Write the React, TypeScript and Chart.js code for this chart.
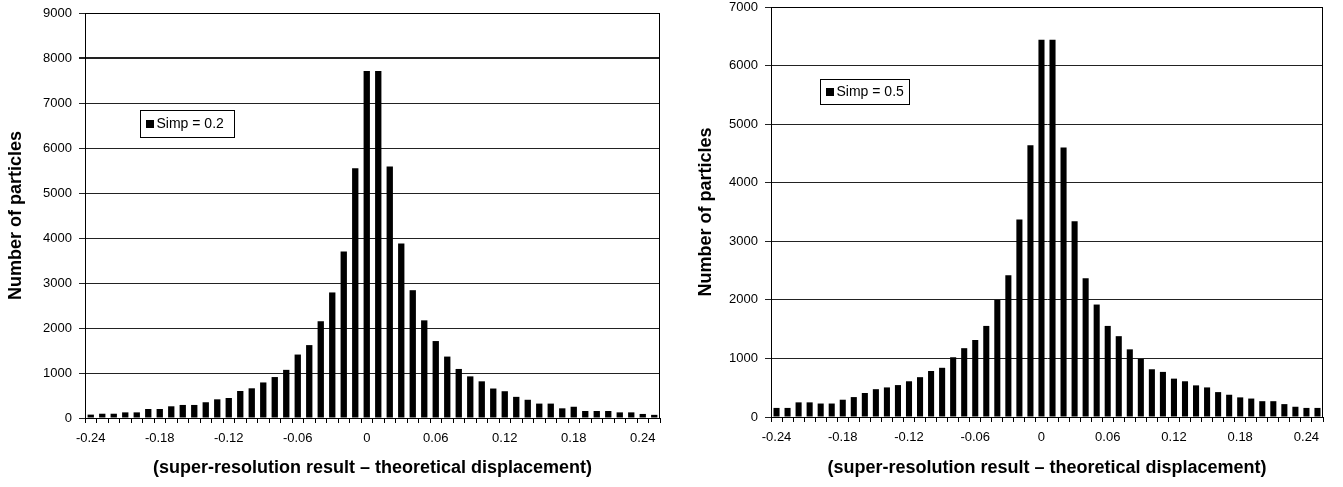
import React, { useEffect, useRef } from 'react';
import { Chart, registerables } from 'chart.js';

Chart.register(...registerables);

const categories = [
  '-0.24', '-0.23', '-0.22', '-0.21', '-0.2', '-0.19', '-0.18', '-0.17', '-0.16', '-0.15',
  '-0.14', '-0.13', '-0.12', '-0.11', '-0.1', '-0.09', '-0.08', '-0.07', '-0.06', '-0.05',
  '-0.04', '-0.03', '-0.02', '-0.01', '0', '0.01', '0.02', '0.03', '0.04', '0.05',
  '0.06', '0.07', '0.08', '0.09', '0.1', '0.11', '0.12', '0.13', '0.14', '0.15',
  '0.16', '0.17', '0.18', '0.19', '0.2', '0.21', '0.22', '0.23', '0.24', '0.25',
];

const shownTickLabels = ['-0.24', '-0.18', '-0.12', '-0.06', '0', '0.06', '0.12', '0.18', '0.24'];

const simp02Counts = [
  75, 95, 95, 125, 125, 200, 200, 260, 290, 290,
  350, 415, 445, 600, 660, 790, 910, 1070, 1410, 1620,
  2150, 2790, 3700, 5550, 7710, 7710, 5590, 3880, 2840, 2170,
  1710, 1365, 1090, 925, 815, 655, 595, 470, 405, 320,
  320, 215, 250, 155, 155, 155, 125, 125, 90, 70,
];

const simp05Counts = [
  155, 155, 250, 250, 230, 230, 295, 340, 410, 475,
  505, 545, 610, 680, 785, 840, 1020, 1175, 1315, 1555,
  2000, 2420, 3370, 4640, 6440, 6440, 4600, 3340, 2370, 1920,
  1555, 1380, 1155, 990, 815, 770, 655, 610, 540, 505,
  425, 380, 335, 315, 270, 270, 220, 175, 155, 155,
];

const yAxisTitle = 'Number of particles';
const xAxisTitle = '(super-resolution result \u2013 theoretical displacement)';

const FONT = "'Liberation Sans', Arial, sans-serif";

type Props = {
  values: number[];
  label: string;
  yMax: number;
  width: number;
  height: number;
  padRight: number;
  padTop: number;
  yAxisWidth: number;
  xAxisHeight: number;
  yTitlePad: number;
  legendX: number;
  legendY: number;
  legendW: number;
  legendH: number;
  thickLine?: number;
};

function HistChart(p: Props) {
  const ref = useRef<HTMLCanvasElement | null>(null);

  useEffect(() => {
    if (!ref.current) return;

    const framePlugin = {
      id: 'frame',
      afterDatasetsDraw(chart: any) {
        const { ctx, chartArea } = chart;
        ctx.save();
        ctx.strokeStyle = '#000';
        ctx.lineWidth = 1;
        const l = Math.round(chartArea.left) + 0.5;
        const r = Math.round(chartArea.right) - 0.5;
        const t = Math.round(chartArea.top) + 0.5;
        const b = Math.round(chartArea.bottom) + 0.5;
        ctx.strokeRect(l, t, r - l, b - t);
        ctx.restore();
      },
    };

    const legendPlugin = {
      id: 'boxLegend',
      afterDraw(chart: any) {
        const { ctx, chartArea } = chart;
        const x = Math.round(chartArea.left + p.legendX) + 0.5;
        const y = Math.round(chartArea.top + p.legendY) + 0.5;
        ctx.save();
        ctx.fillStyle = '#fff';
        ctx.fillRect(x, y, p.legendW, p.legendH);
        ctx.strokeStyle = '#000';
        ctx.lineWidth = 1;
        ctx.strokeRect(x, y, p.legendW, p.legendH);
        ctx.fillStyle = '#000';
        const cy = y + p.legendH / 2;
        ctx.fillRect(Math.round(x + 5), Math.round(cy - 4), 8, 8);
        ctx.font = `14px ${FONT}`;
        ctx.textBaseline = 'middle';
        ctx.textAlign = 'left';
        ctx.fillText(p.label, x + 16, cy + 0.5);
        ctx.restore();
      },
    };

    const chart = new Chart(ref.current, {
      type: 'bar',
      data: {
        labels: categories,
        datasets: [
          {
            label: p.label,
            data: p.values,
            backgroundColor: '#000',
            borderWidth: 0,
            barPercentage: 0.55,
            categoryPercentage: 1,
          },
        ],
      },
      options: {
        responsive: false,
        maintainAspectRatio: false,
        animation: false,
        layout: { padding: { left: 0, right: p.padRight, top: p.padTop, bottom: 0 } },
        plugins: {
          legend: { display: false },
          tooltip: { enabled: false },
        },
        scales: {
          x: {
            offset: true,
            grid: {
              display: true,
              drawOnChartArea: false,
              drawTicks: true,
              tickLength: 5,
              color: '#000',
              offset: true,
            },
            border: { display: true, color: '#000' },
            ticks: {
              autoSkip: false,
              maxRotation: 0,
              minRotation: 0,
              padding: 8,
              color: '#000',
              font: { family: FONT, size: 13 },
              callback: (_v: any, i: number) =>
                shownTickLabels.includes(categories[i]) ? categories[i] : '',
            },
            title: {
              display: true,
              text: xAxisTitle,
              color: '#000',
              font: { family: FONT, size: 18, weight: 'bold' },
              padding: { top: 0, bottom: 8 },
            },
            afterFit: (s: any) => {
              s.height = p.xAxisHeight;
              s.paddingLeft = 0;
              s.paddingRight = 0;
            },
          },
          y: {
            min: 0,
            max: p.yMax,
            ticks: {
              stepSize: 1000,
              padding: 7,
              color: '#000',
              font: { family: FONT, size: 13 },
              callback: (v: any) => String(v),
            },
            grid: {
              color: '#222',
              tickLength: 6,
              lineWidth: (c: any) => (p.thickLine && c.tick && c.tick.value === p.thickLine ? 2 : 1),
            },
            border: { display: true, color: '#000' },
            title: {
              display: true,
              text: yAxisTitle,
              color: '#000',
              font: { family: FONT, size: 18, weight: 'bold' },
              padding: { top: p.yTitlePad, bottom: 0 },
            },
            afterFit: (s: any) => {
              s.width = p.yAxisWidth;
              s.paddingTop = 0;
              s.paddingBottom = 0;
            },
          },
        },
      } as any,
      plugins: [framePlugin, legendPlugin],
    });

    return () => chart.destroy();
  }, []);

  return <canvas ref={ref} width={p.width} height={p.height} style={{ display: 'block' }} />;
}

export default function App() {
  return (
    <div style={{ position: 'absolute', left: 0, top: 0, width: 1343, height: 487, background: '#fff' }}>
      <div style={{ position: 'absolute', left: 0, top: 0 }}>
        <HistChart
          values={simp02Counts}
          label="Simp = 0.2"
          yMax={9000}
          width={670}
          height={487}
          padRight={10}
          padTop={13}
          yAxisWidth={85}
          xAxisHeight={69}
          yTitlePad={5}
          legendX={55}
          legendY={97}
          legendW={94}
          legendH={27}
          thickLine={8000}
        />
      </div>
      <div style={{ position: 'absolute', left: 670, top: 0 }}>
        <HistChart
          values={simp05Counts}
          label="Simp = 0.5"
          yMax={7000}
          width={673}
          height={487}
          padRight={20}
          padTop={7}
          yAxisWidth={101}
          xAxisHeight={70}
          yTitlePad={25}
          legendX={49}
          legendY={72}
          legendW={89}
          legendH={25}
        />
      </div>
    </div>
  );
}
